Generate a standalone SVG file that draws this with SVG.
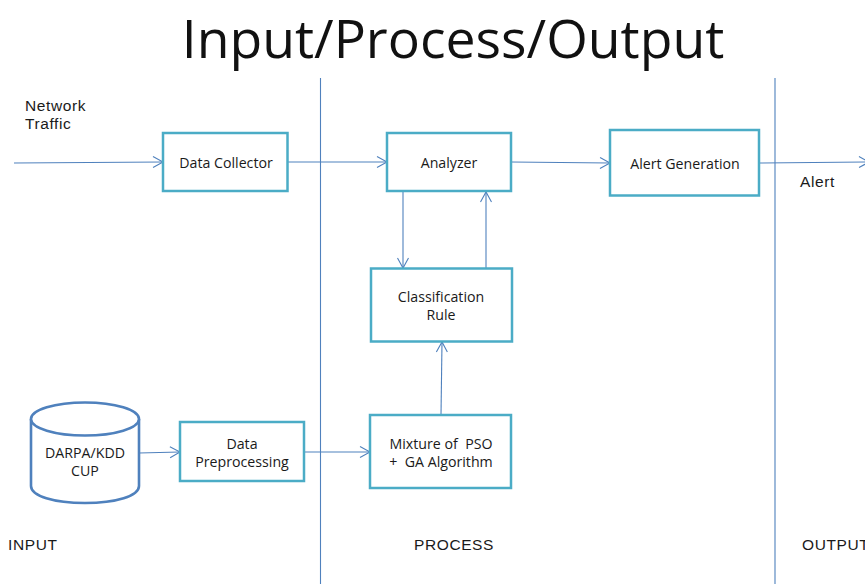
<svg xmlns="http://www.w3.org/2000/svg" width="865" height="584" viewBox="0 0 865 584">
<style>
.box{fill:#fff;stroke:#4bacc6;stroke-width:2.5}
.cyl{fill:#fff;stroke:#4f81bd;stroke-width:2.6}
.c{fill:none;stroke:#4f81bd;stroke-width:1.1;marker-end:url(#a)}
.d{fill:none;stroke:#4f81bd;stroke-width:1.1}
.n{font:14.200px "Open Sans","Noto Sans",sans-serif;fill:#1a1a1a;text-anchor:middle;white-space:pre}
.l{font:15.500px "Liberation Sans",Arial,sans-serif;fill:#1a1a1a;letter-spacing:.6px}
</style>
<defs><marker id="a" markerUnits="userSpaceOnUse" markerWidth="12" markerHeight="14" refX="10" refY="6" orient="auto" overflow="visible"><path d="M0 .5L10 6L0 11.5" fill="none" stroke="#4f81bd" stroke-width="1.1"/></marker></defs>
<rect width="865" height="584" fill="#fff"/>
<text x="453" y="58" font-family="'Open Sans','Noto Sans',sans-serif" font-size="53.500" fill="#111" text-anchor="middle">Input/Process/Output</text>
<g id="connectors">
<path class="d" d="M320.500 78V584M775 78V584"/>
<path class="c" d="M14 163L163 162"/>
<path class="c" d="M288 162L387 162"/>
<path class="c" d="M511 162L610 163"/>
<path class="c" d="M759 163L869 162"/>
<path class="c" d="M403 192L403 268"/>
<path class="c" d="M486 268L486 192"/>
<path class="c" d="M441 415L442 342"/>
<path class="c" d="M139 453L180 452"/>
<path class="c" d="M304 452L370 452"/>
</g>
<g id="network-traffic"><text class="l" x="25" y="111">Network</text><text class="l" x="25" y="129">Traffic</text></g>
<g id="data-collector"><rect class="box" x="163" y="133" width="124.500" height="58"/><text class="n" x="226" y="167.500">Data Collector</text></g>
<g id="analyzer"><rect class="box" x="387" y="133" width="124" height="58"/><text class="n" x="449" y="167.500">Analyzer</text></g>
<g id="alert-generation"><rect class="box" x="610" y="130" width="149" height="65.500"/><text class="n" x="685" y="168.500">Alert Generation</text></g>
<g id="alert"><text class="l" x="800" y="187">Alert</text></g>
<g id="classification-rule"><rect class="box" x="371" y="268.500" width="141" height="73"/><text class="n" x="441" y="301.500">Classification</text><text class="n" x="441" y="319.500">Rule</text></g>
<g id="darpa"><path class="cyl" d="M31 419V486C31 496 54 503 85 503S139 496 139 486V419"/><ellipse class="cyl" cx="85" cy="419" rx="54" ry="16.500"/><text class="n" x="85" y="457.500">DARPA/KDD</text><text class="n" x="85" y="475.500">CUP</text></g>
<g id="data-preprocessing"><rect class="box" x="180" y="422" width="124" height="59"/><text class="n" x="242" y="448.500">Data</text><text class="n" x="242" y="466.500">Preprocessing</text></g>
<g id="mixture"><rect class="box" x="370" y="415" width="141" height="73"/><text class="n" x="441" y="448.500">Mixture of  PSO</text><text class="n" x="441" y="466.500">+  GA Algorithm</text></g>
<g id="labels"><text class="l" x="8" y="550">INPUT</text><text class="l" x="414" y="550">PROCESS</text><text class="l" x="802" y="550">OUTPUT</text></g>
</svg>
